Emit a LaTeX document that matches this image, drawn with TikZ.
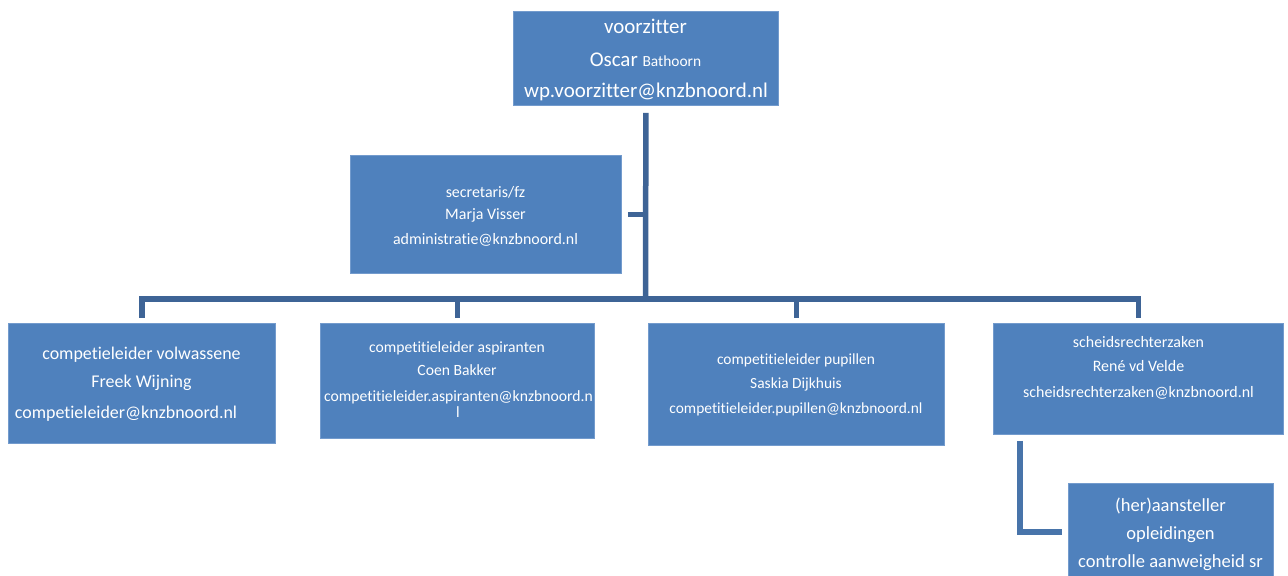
\documentclass[tikz,border=0pt]{standalone}
\usepackage{fontspec}
\setmainfont{Carlito}[Ligatures={NoCommon,NoContextual},RawFeature={-liga}]
\definecolor{boxfill}{RGB}{79,129,189}
\definecolor{boxedge}{RGB}{115,155,205}
\definecolor{linkblue}{RGB}{62,100,150}
\definecolor{sublink}{RGB}{72,116,170}
\begin{document}
\begin{tikzpicture}[x=1bp,y=-1bp,
  box/.style={rectangle, fill=boxfill, draw=boxedge, line width=0.8bp, inner sep=0pt, anchor=north west},
  lbl/.style={anchor=base, text=white, inner sep=0pt},
  conn/.style={draw=linkblue, line width=5.5bp, line join=miter},
  subconn/.style={draw=sublink, line width=6bp, line join=miter}]
\useasboundingbox (0,0) rectangle (1288,576);

% boxes
\node[box, minimum width=265bp, minimum height=94bp] (voorz) at (513,11) {};
\node[box, minimum width=271bp, minimum height=118bp] (sec) at (350,155) {};
\node[box, minimum width=267bp, minimum height=120bp] (b1) at (8,323) {};
\node[box, minimum width=274bp, minimum height=115bp] (b2) at (320,323) {};
\node[box, minimum width=296bp, minimum height=122bp] (b3) at (648,323) {};
\node[box, minimum width=290bp, minimum height=111bp] (b4) at (993,323) {};
\node[box, minimum width=205bp, minimum height=93bp] (b5) at (1068,483) {};

% connectors
\coordinate (bus) at (645.5,299);
\draw[conn] ([yshift=-7bp]voorz.south) -- (bus);
\draw[conn] ([xshift=6bp]sec.east) -- (sec.east -| bus);
\draw[conn] (bus) -| ([yshift=5bp]b1.north);
\draw[conn] (bus) -| ([yshift=5bp]b2.north);
\draw[conn] (bus) -| ([yshift=5bp]b3.north);
\draw[conn] (bus) -| ([yshift=5bp]b4.north);
\draw[subconn] ([shift={(27bp,-6bp)}]b4.south west) |- ([shift={(-6bp,-2.5bp)}]b5.west);

% labels
\node[lbl, font=\fontsize{21}{25}\selectfont] (v1) at (645.5,34) {voorzitter};
\node[lbl, font=\fontsize{21}{25}\selectfont] (v2) at (645.5,67) {Oscar {\fontsize{15.5}{18}\selectfont Bathoorn}};
\node[lbl, font=\fontsize{21}{25}\selectfont] (v3) at (646,98) {wp.voorzitter@knzbnoord.nl};

\node[lbl, font=\fontsize{16}{19}\selectfont] (s1) at (485.5,197.5) {secretaris/fz};
\node[lbl, font=\fontsize{16}{19}\selectfont] (s2) at (485.5,219.5) {Marja Visser};
\node[lbl, font=\fontsize{16}{19}\selectfont] (s3) at (485.5,244.5) {administratie@knzbnoord.nl};

\node[lbl, font=\fontsize{18}{22}\selectfont] (c1a) at (141.5,360) {competieleider volwassene};
\node[lbl, font=\fontsize{18}{22}\selectfont] (c1b) at (141.5,387) {Freek Wijning};
\node[lbl, font=\fontsize{18}{22}\selectfont] (c1c) at (126,418) {competieleider@knzbnoord.nl};

\node[lbl, font=\fontsize{15.7}{19}\selectfont] (c2a) at (457,353) {competitieleider aspiranten};
\node[lbl, font=\fontsize{15.7}{19}\selectfont] (c2b) at (457,376) {Coen Bakker};
\node[lbl, font=\fontsize{15.7}{19}\selectfont] (c2c) at (458.5,401.5) {competitieleider.aspiranten@knzbnoord.n};
\node[lbl, font=\fontsize{15.7}{19}\selectfont] (c2d) at (458,417) {l};

\node[lbl, font=\fontsize{15.5}{19}\selectfont] (c3a) at (796,365) {competitieleider pupillen};
\node[lbl, font=\fontsize{15.5}{19}\selectfont] (c3b) at (796,388) {Saskia Dijkhuis};
\node[lbl, font=\fontsize{15.5}{19}\selectfont] (c3c) at (796,413) {competitieleider.pupillen@knzbnoord.nl};

\node[lbl, font=\fontsize{16}{19}\selectfont] (c4a) at (1138.5,348) {scheidsrechterzaken};
\node[lbl, font=\fontsize{16}{19}\selectfont] (c4b) at (1138.5,372) {René vd Velde};
\node[lbl, font=\fontsize{16}{19}\selectfont] (c4c) at (1138.5,397) {scheidsrechterzaken@knzbnoord.nl};

\node[lbl, font=\fontsize{18.6}{22}\selectfont] (c5a) at (1170.5,511) {(her)aansteller};
\node[lbl, font=\fontsize{18.6}{22}\selectfont] (c5b) at (1170.5,539) {opleidingen};
\node[lbl, font=\fontsize{18.6}{22}\selectfont] (c5c) at (1170.5,567) {controlle aanweigheid sr};
\end{tikzpicture}
\end{document}
